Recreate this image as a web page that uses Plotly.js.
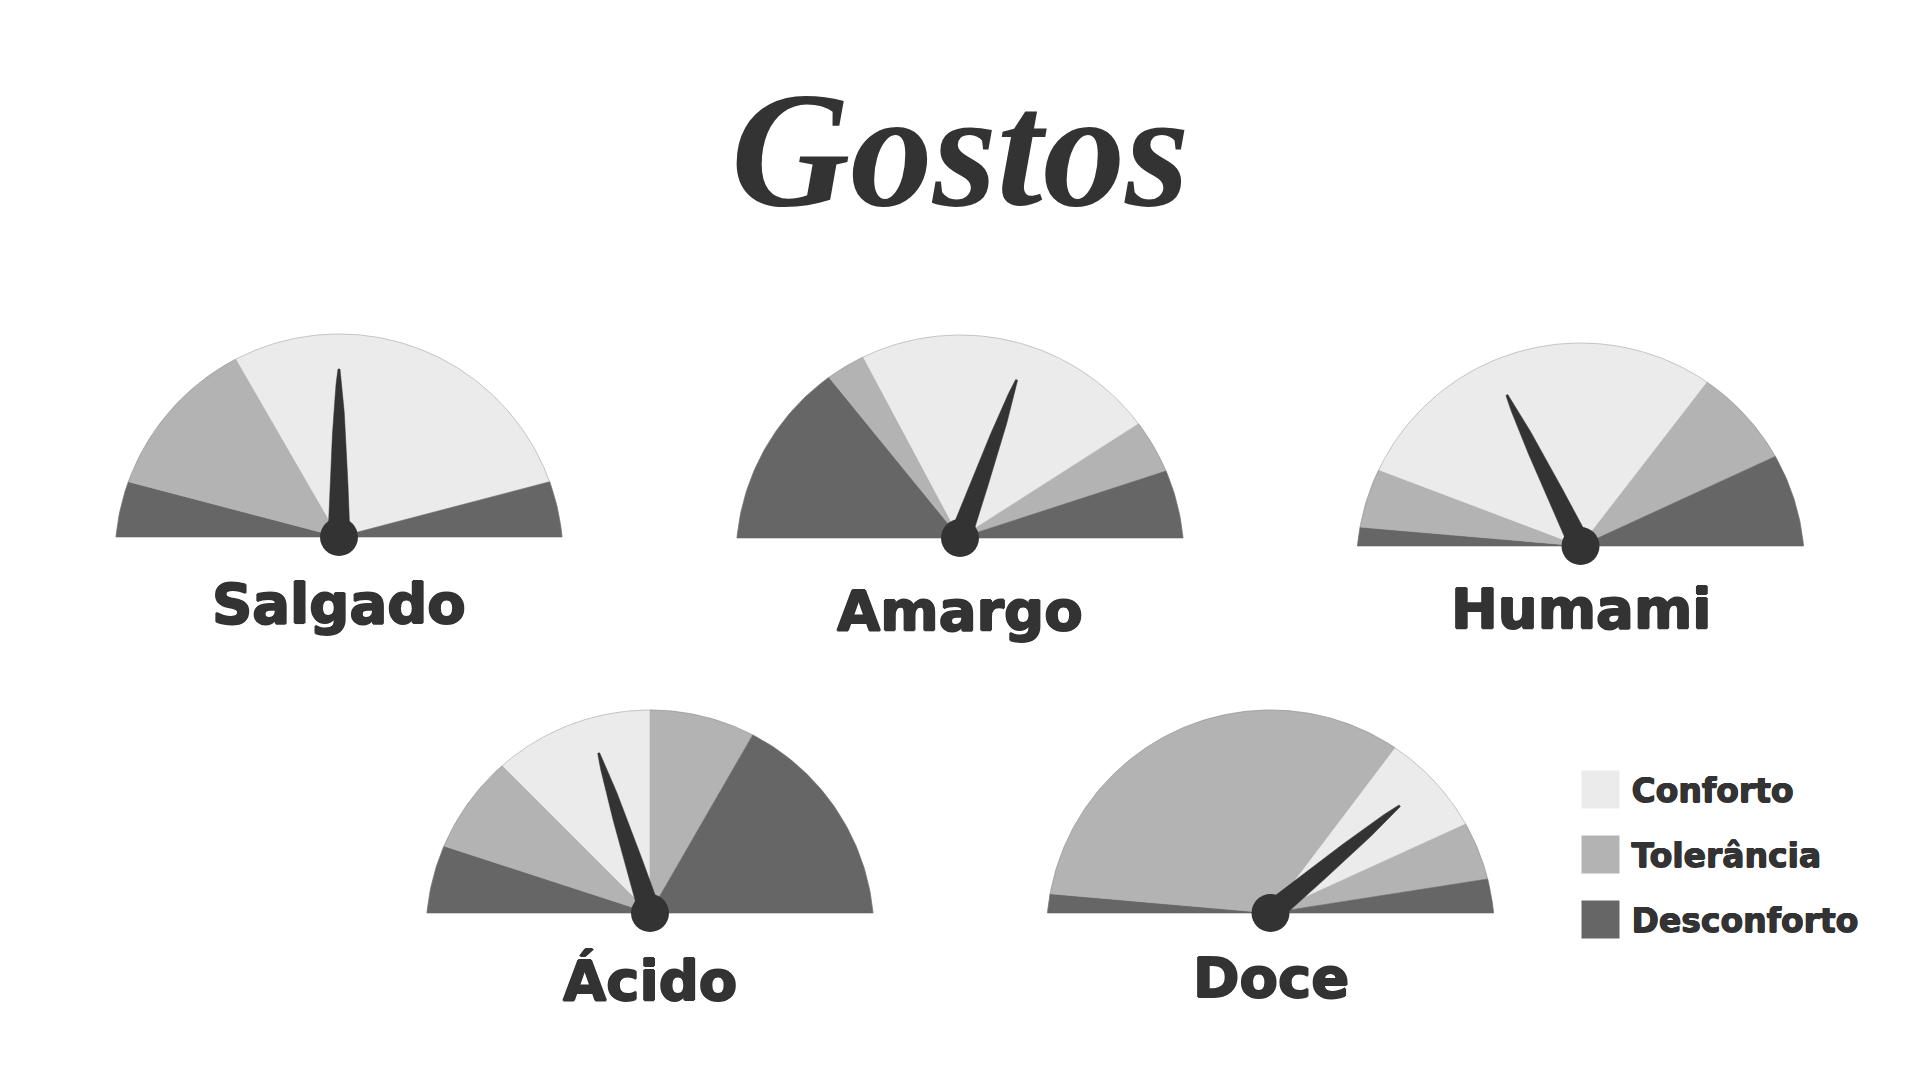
<!DOCTYPE html>
<html><head><meta charset="utf-8">
<script src="https://cdn.plot.ly/plotly-3.0.1.min.js"></script>
<style>html,body{margin:0;padding:0;background:#fff}#chart{width:1920px;height:1080px}</style>
</head><body><div id="chart"></div>
<script>
// ---------------- DATA ----------------
const titleText = 'Gostos';
const gaugeNames = ['Salgado', 'Amargo', 'Humami', 'Ácido', 'Doce'];
const zoneNames = ['Conforto', 'Tolerância', 'Desconforto'];
const zoneColors = ['#ebebeb', '#b3b3b3', '#666666'];

// zones of each dial, left to right; widths in degrees of the 180° dial
const salgadoZones = ['Desconforto', 'Tolerância', 'Conforto', 'Desconforto'];
const salgadoWidths = [14.7, 45.3, 105.3, 14.7];
const amargoZones = ['Desconforto', 'Tolerância', 'Conforto', 'Tolerância', 'Desconforto'];
const amargoWidths = [50.8, 11.1, 85.5, 14.6, 18.0];
const humamiZones = ['Desconforto', 'Tolerância', 'Conforto', 'Tolerância', 'Desconforto'];
const humamiWidths = [4.9, 15.8, 107.0, 27.6, 24.7];
const acidoZones = ['Desconforto', 'Tolerância', 'Conforto', 'Tolerância', 'Desconforto'];
const acidoWidths = [18.0, 27.0, 45.0, 30.0, 60.0];
const doceZones = ['Desconforto', 'Tolerância', 'Conforto', 'Tolerância', 'Desconforto'];
const doceWidths = [5.0, 122.1, 28.4, 15.6, 8.9];

// needle position in degrees of the dial (0 = left end, 180 = right end)
const needleValues = [90.0, 109.7, 64.0, 72.2, 140.3];

// ---------------- LAYOUT / STYLE ----------------
const W = 1920, H = 1080;
const U = 223;                 // px per unit (half chord of a dial)
const RC = 224 / U;            // circle radius
const D = 21 / U;              // circle centre below the pivot
const pivots = [[339, 537], [960, 538], [1580.5, 546], [650, 913], [1270.5, 913]];
const labelOffsets = [66, 72, 62, 67, 64];
const zoneSets = [salgadoZones, amargoZones, humamiZones, acidoZones, doceZones];
const widthSets = [salgadoWidths, amargoWidths, humamiWidths, acidoWidths, doceWidths];
const INK = '#333333';
const thick = '1px 0 0 #333, -1px 0 0 #333, 0 1px 0 #333, 0 -1px 0 #333';
const thin = '0.6px 0 0 #333, -0.6px 0 0 #333, 0 0.6px 0 #333, 0 -0.6px 0 #333';
const labelFont = {family: 'DejaVu Sans, sans-serif', size: 56, color: INK, weight: 700, shadow: thick};

function rayHit(deg) {
  const t = deg * Math.PI / 180;
  const ux = -Math.cos(t), uy = Math.sin(t);
  const s = -D * uy + Math.sqrt(D * D * uy * uy - D * D + RC * RC);
  return [s * ux, s * uy];
}

const traces = [];
const layout = {
  width: W, height: H, margin: {l: 0, r: 0, t: 0, b: 0},
  paper_bgcolor: '#ffffff', plot_bgcolor: 'rgba(0,0,0,0)',
  showlegend: false, hovermode: false, annotations: []
};
const axisBase = {visible: false, showgrid: false, zeroline: false, fixedrange: true};

gaugeNames.forEach((name, gi) => {
  const n = gi + 1;
  const xa = 'x' + n, ya = 'y' + n;
  const [cx, by] = pivots[gi];
  const left = 260, right = 260, top = 240, bottom = 110;
  layout['xaxis' + n] = Object.assign({}, axisBase, {
    domain: [(cx - left) / W, (cx + right) / W], range: [-left / U, right / U], anchor: ya});
  layout['yaxis' + n] = Object.assign({}, axisBase, {
    domain: [(H - by - bottom) / H, (H - by + top) / H], range: [-bottom / U, top / U], anchor: xa});

  // zones
  let start = 0;
  zoneSets[gi].forEach((z, zi) => {
    const w = widthSets[gi][zi];
    const a = start, b = start + w;
    start = b;
    const xs = [0], ys = [0];
    const N = Math.max(8, Math.ceil(w));
    for (let k = 0; k <= N; k++) {
      const p = rayHit(a + (b - a) * k / N);
      xs.push(p[0]); ys.push(p[1]);
    }
    xs.push(0); ys.push(0);
    const col = zoneColors[zoneNames.indexOf(z)];
    traces.push({type: 'scatter', mode: 'lines', x: xs, y: ys, xaxis: xa, yaxis: ya,
      fill: 'toself', fillcolor: col, line: {color: col, width: 0.6}, hoverinfo: 'skip'});
  });

  // faint outline of the arc
  const ox = [], oy = [];
  for (let k = 0; k <= 180; k++) { const p = rayHit(k); ox.push(p[0]); oy.push(p[1]); }
  traces.push({type: 'scatter', mode: 'lines', x: ox, y: oy, xaxis: xa, yaxis: ya,
    line: {color: 'rgba(120,120,120,0.45)', width: 0.8}, hoverinfo: 'skip'});

  // needle
  const t = needleValues[gi] * Math.PI / 180;
  const ux = -Math.cos(t), uy = Math.sin(t);
  const nx = -uy, ny = ux;
  const L = 168 / U, w0 = 11 / U, tip = 1.0 / U;
  const nxs = [], nys = [], rxs = [], rys = [];
  const M = 40;
  for (let k = 0; k <= M; k++) {
    const s = L * k / M;
    const w = Math.max(w0 * Math.pow(1 - s / L, 0.55), tip);
    nxs.push(s * ux + w * nx); nys.push(s * uy + w * ny);
    rxs.push(s * ux - w * nx); rys.push(s * uy - w * ny);
  }
  const px = nxs.concat(rxs.reverse()), py = nys.concat(rys.reverse());
  px.push(px[0]); py.push(py[0]);
  traces.push({type: 'scatter', mode: 'lines', x: px, y: py, xaxis: xa, yaxis: ya,
    fill: 'toself', fillcolor: INK, line: {color: INK, width: 0.5}, hoverinfo: 'skip'});

  // pivot
  traces.push({type: 'scatter', mode: 'markers', x: [0], y: [0], xaxis: xa, yaxis: ya,
    marker: {size: 38, color: INK, line: {width: 0}}, hoverinfo: 'skip'});

  // label
  layout.annotations.push({xref: xa, yref: ya, x: 0, y: -labelOffsets[gi] / U,
    text: name, showarrow: false, xanchor: 'center', yanchor: 'middle', font: labelFont});
});

// legend panel
layout.xaxis6 = Object.assign({}, axisBase, {domain: [1560 / W, 1900 / W], range: [-40.5, 299.5], anchor: 'y6'});
layout.yaxis6 = Object.assign({}, axisBase, {domain: [130 / H, 330 / H], range: [2.469, -0.608], anchor: 'x6'});
traces.push({type: 'scatter', mode: 'markers', x: zoneNames.map(() => 0), y: zoneNames.map((_, i) => i),
  xaxis: 'x6', yaxis: 'y6', marker: {symbol: 'square', size: 38, color: zoneColors, line: {width: 0}},
  hoverinfo: 'skip'});
traces.push({type: 'scatter', mode: 'text', x: zoneNames.map(() => 31), y: zoneNames.map((_, i) => i + 0.07),
  xaxis: 'x6', yaxis: 'y6', text: zoneNames, textposition: 'middle right',
  textfont: {family: 'DejaVu Sans, sans-serif', size: 33, color: INK, weight: 700, shadow: thin}, hoverinfo: 'skip'});

// title
layout.annotations.push({xref: 'paper', yref: 'paper', x: 0.5, y: 1 - 150 / H, text: titleText,
  showarrow: false, xanchor: 'center', yanchor: 'middle',
  font: {family: 'Liberation Serif, serif', size: 165, color: INK, weight: 700, style: 'italic'}});

Plotly.newPlot('chart', traces, layout, {staticPlot: true, displayModeBar: false});
</script>
</body></html>
